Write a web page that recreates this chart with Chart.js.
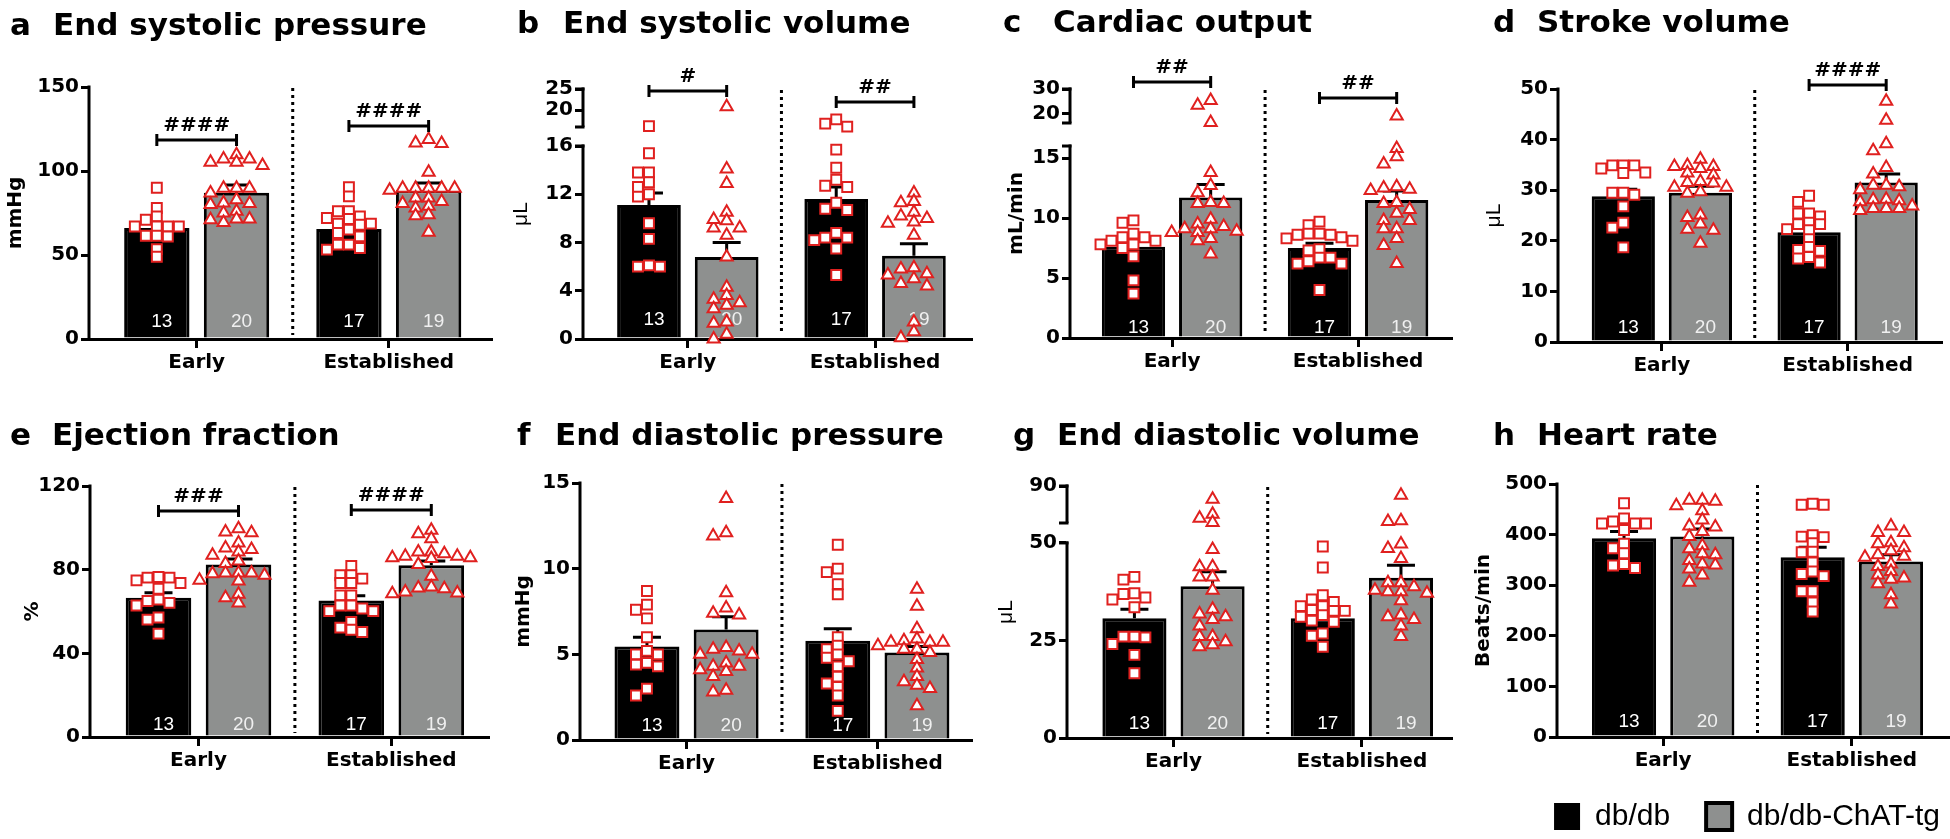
<!DOCTYPE html>
<html>
<head>
<meta charset="utf-8">
<script src="https://cdn.jsdelivr.net/npm/chart.js@4.4.1/dist/chart.umd.min.js"></script>
<style>
  html, body { margin: 0; padding: 0; background: #fff; width: 1950px; height: 839px; overflow: hidden; position: relative; }
  canvas { position: absolute; }
  .ttl { position: absolute; font-family: "DejaVu Sans"; font-weight: bold; font-size: 31px; line-height: 31px; color: #000; white-space: nowrap; }
</style>
</head>
<body>
<script>
// ---- data ----
const CATS = ["Early", "Established"];
const N_LABELS = ["13", "20", "17", "19"];
const LEGEND = ["db/db", "db/db-ChAT-tg"];
const LETTERS = ["a", "b", "c", "d", "e", "f", "g", "h"];
const TITLES = ["End systolic pressure", "End systolic volume", "Cardiac output", "Stroke volume",
  "Ejection fraction", "End diastolic pressure", "End diastolic volume", "Heart rate"];
const Y_TITLES = ["mmHg", "μL", "mL/min", "μL", "%", "mmHg", "μL", "Beats/min"];

// a: end systolic pressure
const A_TICKS = [0, 50, 100, 150];
const A_MEAN = [66, 87, 65.5, 88.5];
const A_SEM = [2.7, 4.6, 2.5, 4.3];
const A_DB_EARLY = [90, 78, 73, 71, 67, 67, 67, 67, 61.5, 61, 61.5, 53.5, 49];
const A_TG_EARLY = [109.7, 107.1, 107.1, 105.2, 105.2, 103.2, 89.7, 89.7, 89.7, 86.9, 82.9, 81, 80.6, 80, 76, 75, 71.4, 71.4, 71, 69.4];
const A_DB_EST = [90.3, 84.9, 76, 76, 73, 72, 71.4, 68.7, 68.7, 68, 65.1, 63.1, 61.1, 56.2, 56.2, 54.2, 53.2];
const A_TG_EST = [118.7, 116.7, 116.3, 99.2, 89.7, 89.7, 89.7, 89.7, 89.7, 88.5, 83.9, 83.9, 81.9, 80.6, 79, 78, 74, 73.4, 63.5];

// b: end systolic volume
const B_TICKS = [0, 4, 8, 12, 16, 20, 25];
const B_MEAN = [11.1, 6.8, 11.6, 6.9];
const B_SEM = [1.0, 1.2, 1.0, 1.0];
const B_DB_EARLY = [16.2, 15.4, 13.8, 13.8, 13.0, 12.6, 12.0, 11.8, 9.6, 8.3, 6.0, 6.1, 6.0];
const B_TG_EARLY = [20.8, 14.1, 12.9, 10.5, 9.2, 9.2, 9.8, 9.9, 8.6, 6.8, 4.3, 3.6, 3.3, 2.5, 2.8, 3.0, 1.3, 1.4, 0.4, 0.0];
const B_DB_EST = [17.8, 16.8, 16.1, 15.7, 14.2, 13.2, 12.6, 12.7, 11.3, 10.7, 10.8, 8.8, 8.4, 8.2, 8.4, 7.5, 5.3];
const B_TG_EST = [12.1, 11.3, 11.4, 10.5, 10.0, 10.2, 9.7, 9.6, 8.6, 5.8, 5.9, 5.3, 5.4, 5.0, 4.6, 4.4, 1.4, 0.6, 0.1];

// c: cardiac output
const C_TICKS = [0, 5, 10, 15, 20, 30];
const C_MEAN = [7.6, 11.7, 7.5, 11.5];
const C_SEM = [0.5, 1.1, 0.4, 0.75];
const C_DB_EARLY = [9.8, 9.6, 8.7, 8.4, 8.4, 8.1, 8.1, 7.8, 7.8, 7.5, 6.8, 4.8, 3.7];
const C_TG_EARLY = [25.3, 23.3, 16.3, 13.8, 12.7, 12.1, 11.3, 11.2, 11.2, 9.9, 9.5, 9.3, 9.1, 9.1, 8.9, 8.8, 8.8, 8.3, 8.1, 7.0];
const C_DB_EST = [9.7, 9.4, 8.7, 8.7, 8.6, 8.6, 8.4, 8.3, 8.1, 7.4, 7.3, 6.7, 6.7, 6.4, 6.2, 6.2, 4.0];
const C_TG_EST = [18.9, 15.8, 15.1, 14.5, 12.6, 12.5, 12.4, 12.3, 11.3, 11.2, 10.7, 10.4, 9.8, 9.8, 9.1, 9.1, 8.3, 7.7, 6.2];

// d: stroke volume
const D_TICKS = [0, 10, 20, 30, 40, 50];
const D_MEAN = [28.8, 29.5, 21.7, 31.5];
const D_SEM = [1.4, 1.3, 0.9, 1.7];
const D_DB_EARLY = [34.9, 34.9, 34.9, 34.3, 33.5, 33.4, 29.5, 29.5, 29.1, 26.8, 23.6, 22.6, 18.7];
const D_TG_EARLY = [36.1, 34.9, 34.7, 34.7, 34.3, 33.4, 33.0, 31.7, 31.5, 31.4, 30.6, 30.6, 29.7, 29.4, 25.1, 24.6, 23.3, 22.3, 22.1, 19.5];
const D_DB_EST = [28.9, 27.7, 25.4, 25.4, 24.8, 23.6, 23.3, 23.3, 22.3, 22.1, 20.3, 18.8, 18.2, 18.0, 16.8, 16.5, 15.7];
const D_TG_EST = [47.6, 43.8, 39.2, 37.8, 34.5, 33.2, 31.0, 31.0, 30.7, 30.1, 28.2, 28.1, 27.9, 27.7, 26.9, 26.4, 26.4, 26.4, 26.0];

// e: ejection fraction
const E_TICKS = [0, 40, 80, 120];
const E_MEAN = [66.6, 82.5, 65.3, 82.1];
const E_SEM = [2.4, 2.6, 2.2, 2.0];
const E_DB_EARLY = [76.5, 76.2, 76.2, 74.9, 73.6, 70.9, 65.7, 65.0, 64.1, 62.9, 57.1, 56.1, 49.4];
const E_TG_EARLY = [99.6, 98.0, 97.7, 92.7, 90.4, 89.6, 88.4, 86.9, 84.1, 82.9, 78.4, 78.4, 78.4, 78.1, 77.3, 74.9, 74.6, 68.2, 66.6, 64.1];
const E_DB_EST = [81.8, 77.3, 77.3, 75.7, 73.6, 73.6, 67.7, 67.7, 62.9, 62.9, 61.4, 60.2, 60.2, 55.0, 52.3, 51.3, 50.2];
const E_TG_EST = [98.8, 97.2, 94.8, 88.4, 88.4, 87.6, 86.4, 86.4, 85.7, 85.7, 85.3, 82.5, 76.8, 71.7, 71.2, 70.9, 69.3, 68.8, 68.5];

// f: end diastolic pressure
const F_TICKS = [0, 5, 10, 15];
const F_MEAN = [5.45, 6.45, 5.8, 5.1];
const F_SEM = [0.55, 0.75, 0.7, 0.35];
const F_DB_EARLY = [8.7, 7.9, 7.6, 7.1, 6.0, 5.2, 5.0, 5.0, 4.5, 4.4, 4.3, 3.0, 2.6];
const F_TG_EARLY = [14.1, 12.1, 11.9, 8.6, 7.7, 7.4, 7.3, 5.4, 5.3, 5.2, 5.0, 5.0, 4.5, 4.3, 4.3, 4.1, 4.0, 3.7, 2.9, 2.8];
const F_DB_EST = [11.4, 10.0, 9.8, 9.1, 8.5, 6.0, 5.5, 5.3, 5.0, 4.8, 4.6, 4.3, 3.7, 3.3, 3.1, 2.6, 1.7];
const F_TG_EST = [8.8, 7.8, 6.5, 5.9, 5.8, 5.7, 5.7, 5.7, 5.5, 5.3, 5.3, 5.1, 4.7, 4.2, 3.7, 3.4, 3.2, 3.0, 2.0];

// g: end diastolic volume
const G_TICKS = [0, 25, 50, 90];
const G_MEAN = [30.7, 38.9, 30.7, 41.1];
const G_SEM = [2.3, 3.7, 3.0, 3.2];
const G_DB_EARLY = [41.3, 40.6, 37.1, 36.9, 36.0, 35.5, 33.5, 26.0, 26.0, 25.8, 24.1, 21.3, 16.6];
const G_TG_EARLY = [75.8, 59.6, 55.3, 50.5, 48.3, 43.9, 43.9, 41.3, 41.3, 37.9, 33.0, 31.8, 31.1, 30.4, 28.7, 26.0, 26.0, 24.7, 23.9, 23.4];
const G_DB_EST = [49.1, 43.7, 36.6, 35.5, 34.9, 33.8, 33.8, 32.8, 32.6, 32.6, 31.5, 31.1, 30.1, 29.8, 26.8, 26.2, 23.4];
const G_TG_EST = [80.1, 52.5, 51.8, 49.7, 48.6, 46.0, 39.8, 39.8, 38.8, 37.9, 37.5, 37.5, 37.1, 35.2, 31.5, 31.1, 30.4, 28.7, 26.0];

// h: heart rate
const H_TICKS = [0, 100, 200, 300, 400, 500];
const H_MEAN = [393, 396, 355, 347];
const H_SEM = [13, 15, 20, 13];
const H_DB_EARLY = [462, 432, 426, 422, 422, 422, 409, 382, 373, 363, 342, 339, 334];
const H_TG_EARLY = [468, 468, 466, 457, 447, 429, 417, 415, 406, 396, 378, 372, 362, 360, 349, 342, 340, 332, 320, 306];
const H_DB_EST = [461, 459, 459, 399, 396, 395, 383, 366, 365, 345, 327, 322, 318, 288, 288, 266, 248];
const H_TG_EST = [417, 404, 404, 384, 382, 374, 368, 360, 357, 355, 342, 337, 327, 320, 314, 312, 303, 281, 263];

// significance brackets: bar index from/to, height in axis units, label
const A_SIG = [[0, 1, 118.5, "####"], [2, 3, 126.8, "####"]];
const B_SIG = [[0, 1, 24.5, "#"], [2, 3, 21.9, "##"]];
const C_SIG = [[0, 1, 32.9, "##"], [2, 3, 26.3, "##"]];
const D_SIG = [[2, 3, 50.8, "####"]];
const E_SIG = [[0, 1, 108, "###"], [2, 3, 108.5, "####"]];

// ---- layout ----
const GAP = 2.41;                      // distance between the two groups, in bar units
const BAR_X = [0, 1, GAP, GAP + 1];
const CAT_X = [0.5, GAP + 0.5];
const SEP_X = (1 + GAP) / 2;
const GRAY = "#8e908f";
const RED = "#e0201f";
const BOLD = { family: "DejaVu Sans", size: 20, weight: "bold" };
const REG = { family: "Liberation Sans", size: 21, weight: "normal" };

// canvas box [left, top, w, h]; plot left/top/bottom/right; first bar centre; px per bar unit
const PANELS = [
  { box: [0, 0, 500, 420], L: 89, T: 87, B: 339, R: 495, c0: 157.5, u: 80.5, ylab: 73, nOff: 17, ticks: A_TICKS, mean: A_MEAN, sem: A_SEM, pts: [A_DB_EARLY, A_TG_EARLY, A_DB_EST, A_TG_EST], sig: A_SIG, segs: [[0, 150, 0, 1]], tx: [10, 53], ty: 9 },
  { box: [480, 0, 500, 420], L: 583, T: 89, B: 339, R: 980, c0: 650.5, u: 79.5, ylab: 62, nOff: 19, ticks: B_TICKS, mean: B_MEAN, sem: B_SEM, pts: [B_DB_EARLY, B_TG_EARLY, B_DB_EST, B_TG_EST], sig: B_SIG, segs: [[0, 16, 0, 0.772], [16, 25, 0.848, 1]], tx: [517, 563], ty: 7, reg: true },
  { box: [960, 0, 500, 420], L: 1070, T: 89, B: 338, R: 1460, c0: 1135, u: 79, ylab: 53, nOff: 10, ticks: C_TICKS, mean: C_MEAN, sem: C_SEM, pts: [C_DB_EARLY, C_TG_EARLY, C_DB_EST, C_TG_EST], sig: C_SIG, segs: [[0, 16, 0, 0.771], [16, 30, 0.863, 1]], tx: [1003, 1053], ty: 6 },
  { box: [1440, 0, 510, 420], L: 1558, T: 89, B: 342, R: 1948, c0: 1624.5, u: 78.5, ylab: 64, nOff: 14, ticks: D_TICKS, mean: D_MEAN, sem: D_SEM, pts: [D_DB_EARLY, D_TG_EARLY, D_DB_EST, D_TG_EST], sig: D_SIG, segs: [[0, 50, 0, 1]], tx: [1493, 1537], ty: 6, reg: true },
  { box: [0, 420, 500, 419], L: 90, T: 486, B: 737, R: 488, c0: 158.5, u: 80, ylab: 57, nOff: 12, ticks: E_TICKS, mean: E_MEAN, sem: E_SEM, pts: [E_DB_EARLY, E_TG_EARLY, E_DB_EST, E_TG_EST], sig: E_SIG, segs: [[0, 120, 0, 1]], tx: [10, 52], ty: 419 },
  { box: [480, 420, 500, 419], L: 580, T: 483, B: 740, R: 980, c0: 648.5, u: 81, ylab: 56, nOff: 14, ticks: F_TICKS, mean: F_MEAN, sem: F_SEM, pts: [F_DB_EARLY, F_TG_EARLY, F_DB_EST, F_TG_EST], sig: [], segs: [[0, 15, 0, 1]], tx: [517, 555], ty: 419 },
  { box: [960, 420, 500, 419], L: 1067, T: 486, B: 738, R: 1460, c0: 1136, u: 80, ylab: 61, nOff: 14, ticks: G_TICKS, mean: G_MEAN, sem: G_SEM, pts: [G_DB_EARLY, G_TG_EARLY, G_DB_EST, G_TG_EST], sig: [], segs: [[0, 50, 0, 0.774], [50, 90, 0.853, 1]], tx: [1013, 1057], ty: 419, reg: true },
  { box: [1440, 420, 536, 440], L: 1557, T: 484, B: 737, R: 1976, c0: 1625.5, u: 80, ylab: 73, nOff: 15, ticks: H_TICKS, mean: H_MEAN, sem: H_SEM, pts: [H_DB_EARLY, H_TG_EARLY, H_DB_EST, H_TG_EST], sig: [], segs: [[0, 500, 0, 1]], tx: [1493, 1537], ty: 419, legend: true },
];

// y axis with optional break: segments [from, to, startFraction, endFraction]
class SegScale extends Chart.LinearScale {
  _p() { return PANELS[+this.chart.canvas.id.slice(1)]; }
  determineDataLimits() {
    const s = this._p().segs;
    this.min = 0;
    this.max = s[s.length - 1][1];
  }
  buildTicks() {
    return this._p().ticks.map((v) => ({ value: v }));
  }
  getPixelForValue(v) {
    const segs = this._p().segs;
    let s = segs[0];
    for (let i = 1; i < segs.length; i++) if (v > segs[i][0]) s = segs[i];
    return this.getPixelForDecimal(s[2] + ((v - s[0]) / (s[1] - s[0])) * (s[3] - s[2]));
  }
  getValueForPixel(px) {
    const d = this.getDecimalForPixel(px);
    const segs = this._p().segs;
    let s = segs[0];
    for (const t of segs) if (d >= t[2]) s = t;
    return s[0] + ((d - s[2]) / (s[3] - s[2])) * (s[1] - s[0]);
  }
  drawBorder() {
    const ctx = this.ctx;
    const segs = this._p().segs;
    const x = this.right;
    ctx.save();
    ctx.strokeStyle = "#000";
    ctx.lineWidth = 3;
    segs.forEach((s, i) => {
      const y1 = this.getPixelForDecimal(s[2]) + (i === 0 ? 1.5 : 0);
      const y2 = this.getPixelForDecimal(s[3]);
      ctx.beginPath();
      ctx.moveTo(x, y1);
      ctx.lineTo(x, y2 - 1.5);
      ctx.stroke();
      if (segs.length > 1) {
        ctx.beginPath();
        ctx.moveTo(x - 8, y2);
        ctx.lineTo(x + 1.5, y2);
        if (i > 0) {
          ctx.moveTo(x - 8, y1);
          ctx.lineTo(x + 1.5, y1);
        }
        ctx.stroke();
      }
    });
    ctx.restore();
  }
}
SegScale.id = "seg";
Chart.register(SegScale);

const deco = {
  id: "deco",
  afterLayout(chart) {
    // pull the legend up against the category labels
    const p = PANELS[+chart.canvas.id.slice(1)];
    if (p.legend && chart.legend) {
      chart.legend.top -= 11.5;
      chart.legend.bottom -= 11.5;
    }
  },
  afterDatasetDraw(chart, args) {
    if (args.meta.type !== "bar") return;
    const p = PANELS[+chart.canvas.id.slice(1)];
    const { ctx, chartArea } = chart;
    const xs = chart.scales.x, ys = chart.scales.y;
    ctx.save();
    // dotted separator
    const sx = xs.getPixelForValue(SEP_X);
    ctx.strokeStyle = "#000";
    ctx.lineWidth = 3;
    ctx.setLineDash([3, 4]);
    ctx.beginPath();
    ctx.moveTo(sx, chartArea.top + 1);
    ctx.lineTo(sx, chartArea.bottom - 4);
    ctx.stroke();
    ctx.setLineDash([]);
    // error bars (SEM, upward)
    args.meta.data.forEach((bar, i) => {
      const top = ys.getPixelForValue(p.mean[i] + p.sem[i]);
      ctx.beginPath();
      ctx.moveTo(bar.x, bar.y);
      ctx.lineTo(bar.x, top);
      ctx.moveTo(bar.x - 14, top);
      ctx.lineTo(bar.x + 14, top);
      ctx.stroke();
    });
    // n per group
    ctx.font = '19px "Liberation Sans"';
    ctx.textAlign = "center";
    ctx.textBaseline = "middle";
    args.meta.data.forEach((bar, i) => {
      ctx.fillStyle = i % 2 ? "#f0f0f0" : "#fff";
      ctx.fillText(N_LABELS[i], bar.x + 5, chartArea.bottom - p.nOff);
    });
    ctx.restore();
  },
  afterDraw(chart) {
    const p = PANELS[+chart.canvas.id.slice(1)];
    const { ctx } = chart;
    const xs = chart.scales.x, ys = chart.scales.y;
    ctx.save();
    ctx.strokeStyle = "#000";
    ctx.fillStyle = "#000";
    ctx.lineWidth = 3;
    ctx.font = 'bold 20px "DejaVu Sans"';
    ctx.textAlign = "center";
    ctx.textBaseline = "alphabetic";
    p.sig.forEach(([a, b, v, t]) => {
      const x1 = xs.getPixelForValue(BAR_X[a]), x2 = xs.getPixelForValue(BAR_X[b]);
      const y = ys.getPixelForValue(v);
      ctx.beginPath();
      ctx.moveTo(x1, y); ctx.lineTo(x2, y);
      ctx.moveTo(x1, y - 6); ctx.lineTo(x1, y + 6);
      ctx.moveTo(x2, y - 6); ctx.lineTo(x2, y + 6);
      ctx.stroke();
      ctx.fillText(t, (x1 + x2) / 2, y - 9);
    });
    ctx.restore();
  },
};

// spread the dots sideways like a column scatter, staying near the bar
function swarm(chart) {
  const xs = chart.scales.x, ys = chart.scales.y;
  const u = xs.getPixelForValue(1) - xs.getPixelForValue(0);
  chart.data.datasets.forEach((ds) => {
    if (ds.type !== "scatter") return;
    const step = ds.pointStyle === "triangle" ? 13 : 11;
    const items = ds.vals.map((v) => ({ v, py: ys.getPixelForValue(v), off: 0 }));
    const placed = [];
    items.slice().sort((a, b) => a.py - b.py).forEach((it) => {
      let best = 0, bestHits = Infinity;
      for (let k = 0; k < 7; k++) {
        const off = (k % 2 ? -1 : 1) * Math.ceil(k / 2) * step;
        const hits = placed.filter((q) => Math.abs(q.off - off) < step * 0.95 && Math.abs(q.py - it.py) < 7.5).length;
        if (hits < bestHits) { best = off; bestHits = hits; }
        if (hits === 0) break;
      }
      it.off = best;
      placed.push(it);
    });
    ds.data = items.map((it) => ({ x: ds.cx + it.off / u, y: it.v }));
  });
  chart.update("none");
}

PANELS.forEach((p, idx) => {
  const [bl, bt, bw, bh] = p.box;
  const cv = document.createElement("canvas");
  cv.id = "p" + idx;
  cv.width = bw;
  cv.height = bh;
  cv.style.left = bl + "px";
  cv.style.top = bt + "px";
  document.body.appendChild(cv);

  const letter = document.createElement("div");
  letter.className = "ttl";
  letter.textContent = LETTERS[idx];
  letter.style.left = p.tx[0] + "px";
  letter.style.top = p.ty + "px";
  document.body.appendChild(letter);
  const ttl = document.createElement("div");
  ttl.className = "ttl";
  ttl.textContent = TITLES[idx];
  ttl.style.left = p.tx[1] + "px";
  ttl.style.top = p.ty + "px";
  document.body.appendChild(ttl);

  const yW = p.ylab + 12;
  const xH = 40;
  const legH = p.legend ? 76 : 0;

  const scatter = (vals, i, style) => ({
    type: "scatter",
    vals: vals,
    cx: BAR_X[i],
    data: vals.map((v) => ({ x: BAR_X[i], y: v })),
    pointStyle: style,
    pointRadius: 7,
    pointBorderWidth: 2,
    pointBorderColor: RED,
    pointBackgroundColor: "#fff",
    order: 0,
  });

  const chart = new Chart(cv, {
    type: "bar",
    data: {
      datasets: [
        {
          type: "bar",
          data: BAR_X.map((x, i) => ({ x: x, y: p.mean[i] })),
          backgroundColor: ["#000", GRAY, "#000", GRAY],
          borderColor: "#000",
          borderWidth: 3,
          barPercentage: 0.82,
          categoryPercentage: 1,
          order: 10,
        },
        scatter(p.pts[0], 0, "rect"),
        scatter(p.pts[1], 1, "triangle"),
        scatter(p.pts[2], 2, "rect"),
        scatter(p.pts[3], 3, "triangle"),
      ],
    },
    options: {
      responsive: false,
      animation: false,
      devicePixelRatio: 1,
      events: [],
      layout: {
        padding: {
          left: p.L - bl - yW,
          top: p.T - bt,
          right: bl + bw - p.R,
          bottom: bt + bh - p.B - xH - legH,
        },
      },
      scales: {
        x: {
          type: "linear",
          offset: false,
          min: (p.L - p.c0) / p.u,
          max: (p.R - p.c0) / p.u,
          bounds: "data",
          afterBuildTicks: (s) => { s.ticks = CAT_X.map((v) => ({ value: v })); },
          afterFit: (s) => { s.height = xH; },
          grid: { offset: false, drawOnChartArea: false, drawTicks: true, tickLength: 9, tickWidth: 3, color: "#000", lineWidth: 3 },
          border: { display: true, width: 3, color: "#000" },
          ticks: { autoSkip: false, maxRotation: 0, padding: 3, color: "#000", font: BOLD, callback: (v, i) => CATS[i] },
        },
        y: {
          type: "seg",
          position: "left",
          afterFit: (s) => { s.width = yW; },
          grid: { drawOnChartArea: false, drawTicks: true, tickLength: 8, tickWidth: 3, color: "#000", lineWidth: 3 },
          border: { display: true, width: 3, color: "#000" },
          ticks: { padding: 2, color: "#000", font: BOLD, callback: (v) => String(v) },
          title: { display: true, text: Y_TITLES[idx], color: "#000", padding: 0, font: p.reg ? REG : BOLD },
        },
      },
      plugins: {
        tooltip: { enabled: false },
        legend: {
          display: !!p.legend,
          position: "bottom",
          align: "end",
          labels: {
            boxWidth: 26,
            boxHeight: 27,
            padding: 36,
            color: "#000",
            font: { family: "Liberation Sans", size: 30 },
            generateLabels: () => LEGEND.map((t, i) => ({
              text: t,
              fillStyle: i ? GRAY : "#000",
              strokeStyle: "#000",
              lineWidth: i ? 4 : 0,
              fontColor: "#000",
              hidden: false,
            })),
          },
        },
      },
    },
    plugins: [deco],
  });
  swarm(chart);
});
</script>
</body>
</html>
